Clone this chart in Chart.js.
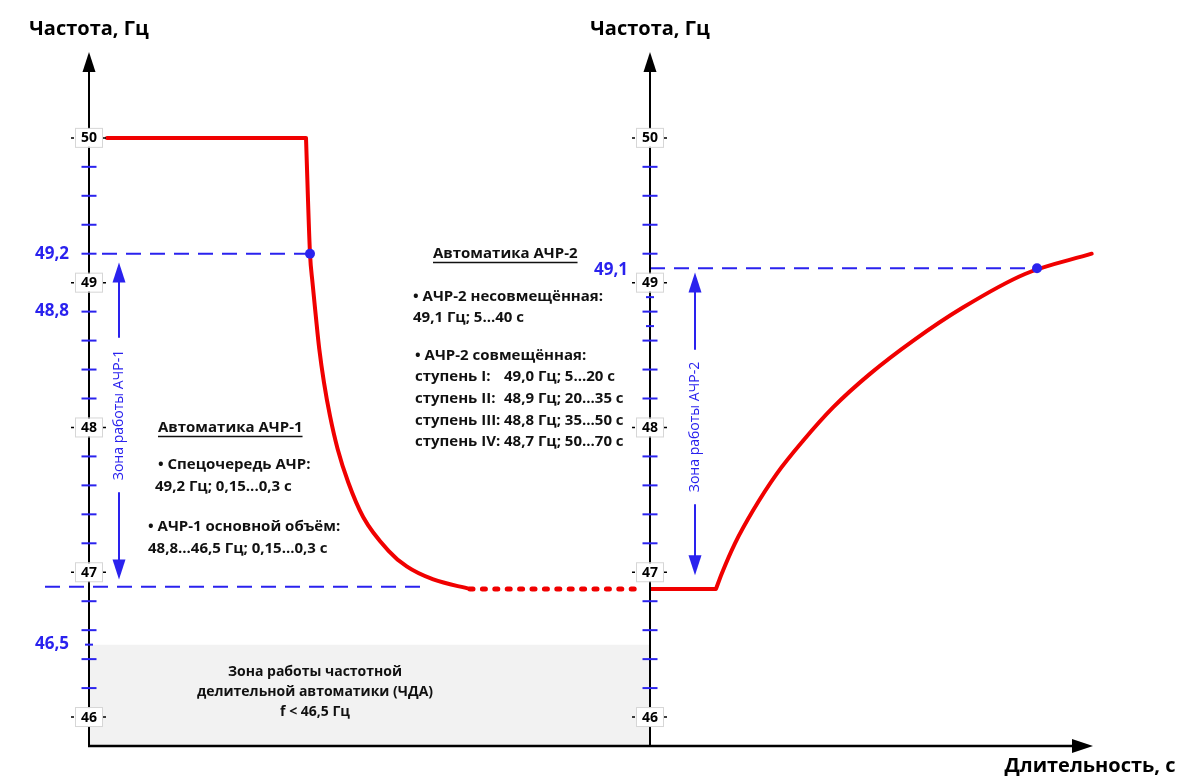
<!DOCTYPE html>
<html lang="ru">
<head>
<meta charset="utf-8">
<title>АЧР-1 / АЧР-2</title>
<script src="https://cdn.jsdelivr.net/npm/chart.js@4.4.1/dist/chart.umd.min.js"></script>
<style>
  html, body { margin: 0; padding: 0; background: #fff; }
  #wrap { width: 1191px; height: 781px; }
</style>
</head>
<body>
<div id="wrap"><canvas id="chart" width="1191" height="781"></canvas></div>
<script>
// --- Шкалы (частота в Гц, время в условных единицах) ---
const Y_MIN = 45.8, Y_MAX = 50.6;
const X_MAX = 100.4;
const RIGHT_AXIS_X = 56.1;

const majorTicks = [50, 49, 48, 47, 46];
const minorTicks = [49.8, 49.6, 49.4, 49.2, 48.8, 48.6, 48.4, 48.2, 47.8, 47.6, 47.4, 47.2, 46.8, 46.6, 46.4, 46.2];
const shortTicksLeft = [46.5];
const shortTicksRight = [48.9, 48.7];
const valueLabelsLeft = [49.2, 48.8, 46.5];
const valueLabelsRight = [49.1];

// --- Кривая частоты ---
const flatX = [1.8, 21.7];
const flatY = [50, 50];
const fallX = [21.7, 22.1, 22.35, 22.68, 23.03, 23.5, 24.1, 24.87, 25.93, 27.43, 29.93, 31.77, 34.43, 38.1];
const fallY = [50, 49.2, 49.0, 48.77, 48.54, 48.31, 48.08, 47.85, 47.62, 47.38, 47.15, 47.04, 46.95, 46.885];
const pauseX = [38.1, 54.9];
const pauseY = [46.885, 46.885];
const holdX = [56.1, 62.7];
const holdY = [46.885, 46.885];
const riseX = [62.7, 63.27, 64.6, 66.43, 68.77, 71.43, 74.43, 78.1, 82.43, 87.43, 93.6, 100.27];
const riseY = [46.885, 46.99, 47.2, 47.43, 47.68, 47.91, 48.14, 48.37, 48.60, 48.83, 49.06, 49.20];

// --- Уставки (пунктир и точки) ---
const guide1X = [1.3, 22.1];
const guide1Y = [49.2, 49.2];
const guide2X = [-4.4, 33.9];
const guide2Y = [46.9, 46.9];
const guide3X = [56.1, 94.8];
const guide3Y = [49.1, 49.1];
const markX = [22.1, 94.8];
const markY = [49.2, 49.1];

// --- Зона ЧДА ---
const zoneX = [0, RIGHT_AXIS_X];
const zoneY = [46.5, 46.5];

const BLUE = '#2a22ee';
const RED = '#f00000';
const INK = '#111111';
const FONT = '"Open Sans", "Noto Sans", sans-serif';

const toPts = (xs, ys) => xs.map((x, i) => ({ x: x, y: ys[i] }));

function head(ctx, x, y, dir, w, h) {
    ctx.beginPath();
    if (dir === 'up') {
        ctx.moveTo(x, y); ctx.lineTo(x - w / 2, y + h); ctx.lineTo(x + w / 2, y + h);
    } else if (dir === 'down') {
        ctx.moveTo(x, y); ctx.lineTo(x - w / 2, y - h); ctx.lineTo(x + w / 2, y - h);
    } else {
        ctx.moveTo(x, y); ctx.lineTo(x - h, y - w / 2); ctx.lineTo(x - h, y + w / 2);
    }
    ctx.closePath();
    ctx.fill();
}

function text(ctx, str, x, y, font, color, align) {
    ctx.font = font;
    ctx.fillStyle = color || INK;
    ctx.textAlign = align || 'left';
    ctx.textBaseline = 'middle';
    ctx.fillText(str, x, y);
}

function underlined(ctx, str, x, y, font) {
    text(ctx, str, x, y, font);
    const w = ctx.measureText(str).width;
    ctx.strokeStyle = INK;
    ctx.lineWidth = 1.3;
    ctx.beginPath();
    ctx.moveTo(x, y + 8.5);
    ctx.lineTo(x + w, y + 8.5);
    ctx.stroke();
}

// Стрелка "Зона работы ..." с надписью посередине
function zoneArrow(ctx, x, yTop, yBot, yMid, label) {
    ctx.font = '14px ' + FONT;
    const half = ctx.measureText(label).width / 2 + 12;
    ctx.strokeStyle = BLUE;
    ctx.fillStyle = BLUE;
    ctx.lineWidth = 2;
    ctx.beginPath();
    ctx.moveTo(x, yTop + 18); ctx.lineTo(x, yMid - half);
    ctx.moveTo(x, yMid + half); ctx.lineTo(x, yBot - 18);
    ctx.stroke();
    head(ctx, x, yTop, 'up', 13, 20);
    head(ctx, x, yBot, 'down', 13, 20);
    ctx.save();
    ctx.translate(x, yMid);
    ctx.rotate(-Math.PI / 2);
    text(ctx, label, 0, 0, '14px ' + FONT, BLUE, 'center');
    ctx.restore();
}

const schemaPlugin = {
    id: 'schema',
    afterDatasetsDraw(chart) {
        const ctx = chart.ctx;
        const sx = chart.scales.x, sy = chart.scales.y;
        const axes = [sx.getPixelForValue(0), sx.getPixelForValue(RIGHT_AXIS_X)];
        const yBot = sy.getPixelForValue(Y_MIN);
        const yTop = sy.getPixelForValue(Y_MAX);
        const xEnd = sx.getPixelForValue(X_MAX);
        ctx.save();

        // оси
        ctx.strokeStyle = '#000';
        ctx.fillStyle = '#000';
        axes.forEach(ax => {
            ctx.lineWidth = 2;
            ctx.beginPath();
            ctx.moveTo(ax, yBot + 1);
            ctx.lineTo(ax, yTop + 18);
            ctx.stroke();
            head(ctx, ax, yTop + 1, 'up', 13, 20);
        });
        ctx.lineWidth = 2.5;
        ctx.beginPath();
        ctx.moveTo(axes[0] - 1, yBot);
        ctx.lineTo(xEnd - 18, yBot);
        ctx.stroke();
        head(ctx, xEnd, yBot, 'right', 14, 21);

        // деления
        ctx.strokeStyle = BLUE;
        ctx.lineWidth = 2;
        axes.forEach((ax, i) => {
            minorTicks.forEach(v => {
                const y = sy.getPixelForValue(v);
                ctx.beginPath(); ctx.moveTo(ax - 7.5, y); ctx.lineTo(ax + 7.5, y); ctx.stroke();
            });
            (i === 0 ? shortTicksLeft : shortTicksRight).forEach(v => {
                const y = sy.getPixelForValue(v);
                ctx.beginPath(); ctx.moveTo(ax - 4, y); ctx.lineTo(ax + 4, y); ctx.stroke();
            });
            majorTicks.forEach(v => {
                const y = sy.getPixelForValue(v);
                ctx.fillStyle = '#fff';
                ctx.fillRect(ax - 13, y - 9, 26, 18);
                ctx.strokeStyle = '#d6d6d6';
                ctx.lineWidth = 1;
                ctx.strokeRect(ax - 13.5, y - 9.5, 27, 19);
                ctx.strokeStyle = '#000';
                ctx.lineWidth = 1.5;
                ctx.beginPath();
                ctx.moveTo(ax - 18, y); ctx.lineTo(ax - 15, y);
                ctx.moveTo(ax + 14, y); ctx.lineTo(ax + 17, y);
                ctx.stroke();
                text(ctx, String(v), ax, y + 0.5, 'bold 14px ' + FONT, '#000', 'center');
                ctx.strokeStyle = BLUE;
                ctx.lineWidth = 2;
            });
        });

        // значения уставок
        valueLabelsLeft.forEach(v => text(ctx, String(v).replace('.', ','), axes[0] - 20, sy.getPixelForValue(v), 'bold 17px ' + FONT, BLUE, 'right'));
        valueLabelsRight.forEach(v => text(ctx, String(v).replace('.', ','), axes[1] - 22, sy.getPixelForValue(v) + 2, 'bold 17px ' + FONT, BLUE, 'right'));

        // подписи осей
        axes.forEach(ax => text(ctx, 'Частота, Гц', ax, 29, 'bold 20px ' + FONT, '#000', 'center'));
        text(ctx, 'Длительность, с', 1090, 766, 'bold 20px ' + FONT, '#000', 'center');

        // зоны АЧР
        zoneArrow(ctx, 119, sy.getPixelForValue(49.14), sy.getPixelForValue(46.95), 415, 'Зона работы АЧР-1');
        zoneArrow(ctx, 695, sy.getPixelForValue(49.07), sy.getPixelForValue(46.98), 427, 'Зона работы АЧР-2');

        // пояснения АЧР-1
        const body = 'bold 15px ' + FONT;
        underlined(ctx, 'Автоматика АЧР-1', 158, 428, body);
        text(ctx, '• Спецочередь АЧР:', 158, 465, body);
        text(ctx, '49,2 Гц; 0,15...0,3 с', 155, 487, body);
        text(ctx, '• АЧР-1 основной объём:', 148, 527, body);
        text(ctx, '48,8...46,5 Гц; 0,15...0,3 с', 148, 549, body);

        // пояснения АЧР-2
        underlined(ctx, 'Автоматика АЧР-2', 433, 254, body);
        text(ctx, '• АЧР-2 несовмещённая:', 413, 297, body);
        text(ctx, '49,1 Гц; 5...40 с', 413, 318, body);
        text(ctx, '• АЧР-2 совмещённая:', 415, 356, body);
        const stages = [['ступень I:', '49,0 Гц; 5...20 с'], ['ступень II:', '48,9 Гц; 20...35 с'],
                        ['ступень III:', '48,8 Гц; 35...50 с'], ['ступень IV:', '48,7 Гц; 50...70 с']];
        stages.forEach((s, i) => {
            const y = 377 + i * 21.7;
            text(ctx, s[0], 415, y, body);
            text(ctx, s[1], 504, y, body);
        });

        // зона ЧДА
        const zone = 'bold 14px ' + FONT;
        const zx = 315;
        text(ctx, 'Зона работы частотной', zx, 672, zone, INK, 'center');
        text(ctx, 'делительной автоматики (ЧДА)', zx, 692, zone, INK, 'center');
        text(ctx, 'f < 46,5 Гц', zx, 712, zone, INK, 'center');

        ctx.restore();
    }
};

const redLine = { borderColor: RED, borderWidth: 4, pointRadius: 0, fill: false, clip: false };
const guide = { borderColor: BLUE, borderWidth: 2, borderDash: [15, 9], pointRadius: 0, fill: false, clip: false };

new Chart(document.getElementById('chart'), {
    type: 'line',
    data: {
        datasets: [
            { label: 'ЧДА', data: toPts(zoneX, zoneY), fill: 'start', backgroundColor: '#f2f2f2', borderWidth: 0, pointRadius: 0, order: 10 },
            Object.assign({ label: '49,2', data: toPts(guide1X, guide1Y) }, guide),
            Object.assign({ label: '46,9', data: toPts(guide2X, guide2Y) }, guide),
            Object.assign({ label: '49,1', data: toPts(guide3X, guide3Y) }, guide),
            Object.assign({ label: 'f0', data: toPts(flatX, flatY), borderCapStyle: 'round', borderJoinStyle: 'round' }, redLine),
            Object.assign({ label: 'спад', data: toPts(fallX, fallY), cubicInterpolationMode: 'monotone' }, redLine),
            Object.assign({ label: 'пауза', data: toPts(pauseX, pauseY), borderWidth: 5, borderDash: [3, 9.4], borderCapStyle: 'round' }, { borderColor: RED, pointRadius: 0, fill: false, clip: false }),
            Object.assign({ label: 'удержание', data: toPts(holdX, holdY) }, redLine),
            Object.assign({ label: 'подъём', data: toPts(riseX, riseY), cubicInterpolationMode: 'monotone', borderCapStyle: 'round' }, redLine),
            { label: 'уставки', data: toPts(markX, markY), showLine: false, pointRadius: 5, pointBackgroundColor: BLUE, pointBorderWidth: 0, order: -1 }
        ]
    },
    options: {
        responsive: false,
        animation: false,
        events: [],
        layout: { padding: { left: 89, right: 98, top: 51, bottom: 35 } },
        scales: {
            x: { type: 'linear', min: 0, max: X_MAX, display: false },
            y: { type: 'linear', min: Y_MIN, max: Y_MAX, display: false }
        },
        plugins: { legend: { display: false }, tooltip: { enabled: false } }
    },
    plugins: [schemaPlugin]
});
</script>
</body>
</html>
